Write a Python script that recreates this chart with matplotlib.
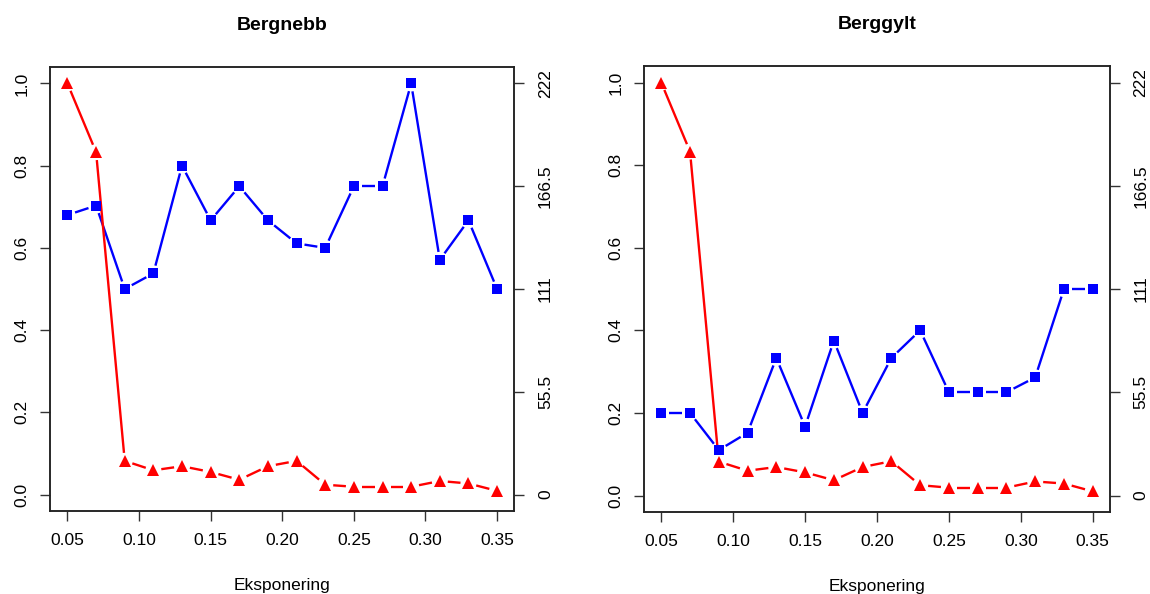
import numpy as np
import matplotlib.pyplot as plt

plt.rcParams['font.family'] = ['Liberation Sans', 'DejaVu Sans']

# data (left axis scale 0-1, right axis 0-222 is the same scale)
ekspo = [0.05, 0.07, 0.09, 0.11, 0.13, 0.15, 0.17, 0.19,
         0.21, 0.23, 0.25, 0.27, 0.29, 0.31, 0.33, 0.35]

bergnebb_red = [1.0, 0.833, 0.082, 0.059, 0.069, 0.055, 0.036, 0.069,
                0.082, 0.024, 0.019, 0.019, 0.019, 0.033, 0.027, 0.009]
bergnebb_blue = [0.68, 0.703, 0.50, 0.538, 0.80, 0.667, 0.75, 0.667,
                 0.611, 0.60, 0.75, 0.75, 1.0, 0.571, 0.667, 0.50]

berggylt_red = [1.0, 0.833, 0.082, 0.060, 0.069, 0.056, 0.037, 0.069,
                0.083, 0.025, 0.019, 0.019, 0.019, 0.034, 0.029, 0.010]
berggylt_blue = [0.20, 0.20, 0.11, 0.152, 0.333, 0.167, 0.375, 0.20,
                 0.333, 0.40, 0.25, 0.25, 0.25, 0.286, 0.50, 0.50]

right_ticks = [0, 55.5, 111, 166.5, 222]
right_labels = ['0', '55.5', '111', '166.5', '222']
x_ticks = [0.05, 0.10, 0.15, 0.20, 0.25, 0.30, 0.35]
y_ticks = [0.0, 0.2, 0.4, 0.6, 0.8, 1.0]

RED = '#FF0000'
BLUE = '#0000FF'


def gapped(ax, x, y, color, marker, ms, gap=8):
    # R type="b": line segments with a gap around every point
    ax.plot(x, y, ls='none', marker=marker, color=color, ms=ms, mew=0, zorder=3)
    pts = ax.transData.transform(np.column_stack([x, y]))
    inv = ax.transData.inverted()
    for p0, p1 in zip(pts[:-1], pts[1:]):
        d = p1 - p0
        L = np.hypot(*d)
        if L <= 2 * gap:
            continue
        u = d / L
        a = inv.transform(p0 + u * gap)
        b = inv.transform(p1 - u * gap)
        ax.plot([a[0], b[0]], [a[1], b[1]], color=color, lw=1.7,
                solid_capstyle='butt', zorder=2)


fig = plt.figure(figsize=(11.5, 5.94), dpi=100)

panels = [
    ('Bergnebb', [0.0437, 0.1397, 0.4035, 0.7475], bergnebb_red, bergnebb_blue),
    ('Berggylt', [0.5600, 0.1380, 0.4052, 0.7508], berggylt_red, berggylt_blue),
]

for title, pos, red, blue in panels:
    ax = fig.add_axes(pos)
    ax.set_xlim(0.038, 0.362)
    ax.set_ylim(-0.04, 1.04)
    ax.set_xticks(x_ticks)
    ax.set_xticklabels(['%.2f' % t for t in x_ticks])
    ax.set_yticks(y_ticks)
    ax.set_yticklabels(['%.1f' % t for t in y_ticks], rotation=90, va='center')
    ax.tick_params(direction='out', length=7.5, width=1, labelsize=12.5, color='#333333')
    ax.tick_params(axis='x', pad=8.5)
    ax.tick_params(axis='y', pad=7.5)
    for s in ax.spines.values():
        s.set_linewidth(1.1)
        s.set_color('#222222')

    ax2 = ax.twinx()
    ax2.set_ylim(-0.04 * 222, 1.04 * 222)
    ax2.set_yticks(right_ticks)
    ax2.set_yticklabels(right_labels, rotation=90, va='center')
    ax2.tick_params(direction='out', length=7.5, width=1, labelsize=12.5, pad=9.5, color='#333333')
    for s in ax2.spines.values():
        s.set_linewidth(1.1)
        s.set_color('#222222')

    gapped(ax, ekspo, blue, BLUE, 's', 7.5)
    gapped(ax, ekspo, red, RED, '^', 8.5)

    h = pos[3] * 594
    ax.text(0.5, 1 + 42 / h, title, transform=ax.transAxes, ha='center',
            va='center', fontsize=14, fontweight='bold')
    ax.text(0.5, -74 / h, 'Eksponering', transform=ax.transAxes, ha='center',
            va='center', fontsize=12.5)

fig.savefig('out.png', dpi=100)
